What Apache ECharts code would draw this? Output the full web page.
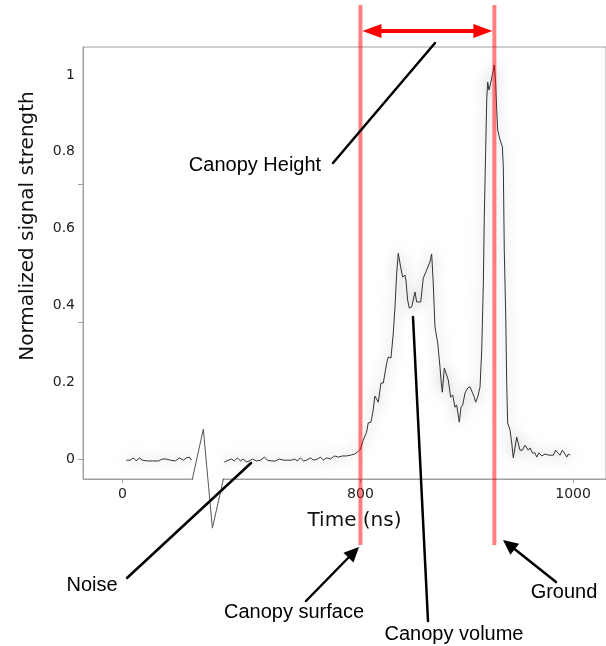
<!DOCTYPE html>
<html>
<head>
<meta charset="utf-8">
<title>Waveform</title>
<script src="https://cdn.jsdelivr.net/npm/echarts@6/dist/echarts.min.js"></script>
<style>
html, body { margin: 0; padding: 0; background: #fff; }
#main { width: 606px; height: 646px; }
</style>
</head>
<body>
<div id="main"></div>
<script>
// axis ticks
var xTicks = [0, 800, 1000];
var yTicks = [0, 0.2, 0.4, 0.6, 0.8, 1];
var yExtraTicks = [0, 0.357, 0.716];

// return waveform (ns, normalized strength); null = gap around the noise pulse
var signalTime = [3.8, 7.5, 10.4, 13.2, 16, 18.8, 23.5, 28.2, 33.9, 37.6, 41.4, 45.2, 49.9, 53.6, 57.4, 60.2, 63.1, 64.9, 80,
  96, 99.6, 678.6, 681.4, 684.2, 687.1, 689.9, 692.7, 695.5, 698.4, 702.1, 705.9, 709.6, 712.5, 716.2, 720, 723.8, 727.5,
  731.3, 735, 737.9, 740.7, 743.5, 746.4, 749.2, 753, 755.8, 759.5, 762.4, 765.2, 768, 771.8, 775.5, 779.3, 783.1, 786.8,
  790.6, 794.4, 797.2, 800, 802.6, 805.8, 807.3, 809.9, 812, 813.6, 815.2, 816.8, 819.3, 821.5, 824.7, 826.2, 828.7,
  830.9, 832.5, 834.1, 835.6, 837.8, 839.7, 841.9, 842.8, 844.4, 845.9, 848.2, 849.7, 851.3, 852.9, 854.4, 856.7, 859.1,
  862.3, 865.4, 867, 868.5, 870.1, 872.7, 874.8, 875.8, 877, 878.9, 880.2, 882.6, 884.9, 886.8, 888.9, 890.5, 893,
  894.6, 896.2, 898.4, 900.9, 903.1, 905.2, 907.1, 908.4, 910.3, 912.5, 914.1, 915.6, 916.5, 917.8, 918.8, 919.7,
  920.9, 922.8, 924.4, 925.9, 927.2, 928.2, 929.1, 931.3, 933.5, 934.4, 935.3, 936.7, 937.6, 938.5, 940.7, 942.3,
  943.8, 945.4, 947, 948.5, 950.1, 952.3, 954.8, 956.4, 957.9, 959.5, 961.7, 964.2, 965.8, 968, 970.5, 973.7, 977.4,
  981.5, 983.7, 985.6, 987.8, 989.9, 991.8, 994.1, 995.6, 997.2];
var signalValue = [-0.003, -0.003, 0.003, -0.005, 0.003, -0.003, -0.005, -0.005, -0.005, 0, 0, -0.003, -0.005, 0.003, -0.003, 0.003, 0.005, -0.003, null,
  -0.008, -0.003, 0, -0.005, 0.003, -0.005, 0, -0.008, -0.005, 0, -0.005, -0.003, 0.005, -0.003, -0.005, -0.005, 0, -0.003,
  -0.003, -0.003, 0, -0.005, 0.003, -0.005, -0.003, 0.003, -0.003, 0, 0.005, -0.003, 0.003, 0, 0.008, 0.005, 0.008, 0.008,
  0.010, 0.013, 0.018, 0.026, 0.049, 0.070, 0.094, 0.096, 0.128, 0.164, 0.161, 0.148, 0.198, 0.198, 0.25, 0.266, 0.263,
  0.328, 0.396, 0.484, 0.536, 0.5, 0.474, 0.479, 0.466, 0.414, 0.393, 0.396, 0.414, 0.435, 0.409, 0.414, 0.409, 0.471,
  0.492, 0.513, 0.534, 0.458, 0.344, 0.302, 0.240, 0.206, 0.174, 0.237, 0.240, 0.206, 0.161, 0.167, 0.135, 0.141, 0.096,
  0.135, 0.141, 0.172, 0.185, 0.188, 0.174, 0.161, 0.148, 0.161, 0.188, 0.284, 0.458, 0.63, 0.805, 0.935, 0.982,
  0.961, 0.982, 1.005, 1.026, 0.979, 0.909, 0.857, 0.831, 0.813, 0.760, 0.544, 0.370, 0.198, 0.094, 0.076, 0.042,
  0.003, 0.003, 0.057, 0.055, 0.023, 0.023, 0.036, 0.036, 0.023, 0.029, 0.016, 0.016, 0.005, 0.016, 0.008, 0.013, 0.010,
  0.010, 0.023, 0.016, 0.010, 0.023, 0.016, 0.005, 0.013, 0.010];

// the noise pulse drawn over the baseline
var pulseTime = [65.9, 76.2, 84.7, 95.1];
var pulseValue = [-0.052, 0.078, -0.18, -0.052];

// canopy surface and ground returns
var surfaceTime = 800;
var groundTime = 926;

function toPairs(xs, ys){
	var out = [];
	for(var i = 0; i < xs.length; i++){
		out.push([xs[i], ys[i] == null ? '-' : ys[i]]);
	}
	return out;
}

var axisGray = '#a0a0a0';
var chart = echarts.init(document.getElementById('main'));

var option = {
	animation : false,
	backgroundColor : '#fff',
	grid : {
		left : 83, right : -2, top : 47, bottom : 167,
		show : true, borderColor : axisGray, borderWidth : 1
	},
	xAxis : {
		type : 'value',
		min : -37, max : 1031,
		breaks : [ { start : 100, end : 676, gap : 0 } ],
		breakArea : { show : false },
		name : 'Time (ns)',
		nameLocation : 'middle',
		nameGap : 32,
		nameTextStyle : { fontFamily : 'DejaVu Sans', fontSize : 20, color : '#111', padding : [0, 0, 0, 20] },
		axisLine : { onZero : false, lineStyle : { color : axisGray } },
		axisTick : { customValues : xTicks, length : 4, lineStyle : { color : axisGray } },
		axisLabel : {
			customValues : xTicks, fontFamily : 'DejaVu Sans', fontSize : 14, color : '#222', margin : 8,
			formatter : function(v){ return String(v); }
		},
		splitLine : { show : false }
	},
	yAxis : {
		type : 'value',
		min : -0.052, max : 1.073,
		name : 'Normalized signal strength',
		nameLocation : 'middle',
		nameGap : 45,
		nameTextStyle : { fontFamily : 'DejaVu Sans', fontSize : 20, color : '#111', padding : [0, 0, 0, 74] },
		axisLine : { show : true, onZero : false, lineStyle : { color : axisGray } },
		axisTick : { show : true, customValues : yExtraTicks, length : 5, lineStyle : { color : axisGray } },
		axisLabel : {
			customValues : yTicks, fontFamily : 'DejaVu Sans', fontSize : 14, color : '#222', margin : 8,
			formatter : function(v){ return String(v); }
		},
		splitLine : { show : false }
	},
	series : [ {
		name : 'Return',
		type : 'line',
		data : toPairs(signalTime, signalValue),
		showSymbol : false,
		connectNulls : false,
		lineStyle : { color : '#333', width : 1, shadowColor : 'rgba(0,0,0,0.55)', shadowBlur : 14 },
		z : 2
	},
	{
		name : 'Noise pulse',
		type : 'line',
		data : toPairs(pulseTime, pulseValue),
		showSymbol : false,
		clip : false,
		lineStyle : { color : '#555', width : 1 },
		z : 3
	} ]
};
chart.setOption(option);

// annotations, red guides placed from the surface / ground times
var xs = chart.convertToPixel({ xAxisIndex : 0 }, surfaceTime);
var xg = chart.convertToPixel({ xAxisIndex : 0 }, groundTime);
var p0 = chart.convertToPixel({ gridIndex : 0 }, [pulseTime[0], pulseValue[0]]);
var p3 = chart.convertToPixel({ gridIndex : 0 }, [pulseTime[3], pulseValue[3]]);

function head(tx, ty, fx, fy, len, w){
	var dx = tx - fx, dy = ty - fy, d = Math.sqrt(dx * dx + dy * dy);
	var ux = dx / d, uy = dy / d;
	var bx = tx - ux * len, by = ty - uy * len;
	return [[tx, ty], [bx - uy * w, by + ux * w], [bx + uy * w, by - ux * w]];
}
function blackLine(x1, y1, x2, y2){
	return { type : 'line', z : 110, shape : { x1 : x1, y1 : y1, x2 : x2, y2 : y2 },
		style : { stroke : '#000', lineWidth : 2.5, lineCap : 'round' } };
}
function label(text, x, y){
	return { type : 'text', z : 110, x : x, y : y,
		style : { text : text, fill : '#000', font : '20px "Liberation Sans", Arial, sans-serif',
			align : 'center', verticalAlign : 'middle' } };
}

var arrowY = 31;
var graphics = [
	// white patch pasted behind the noise pulse
	{ type : 'rect', z : 1, shape : { x : p0[0] + 1, y : 428, width : p3[0] - p0[0] - 2, height : 58 }, style : { fill : '#fff' } },

	{ type : 'line', z : 100, shape : { x1 : xs, y1 : 5, x2 : xs, y2 : 545 }, style : { stroke : 'rgba(255,0,0,0.5)', lineWidth : 4 } },
	{ type : 'line', z : 100, shape : { x1 : xg, y1 : 5, x2 : xg, y2 : 545 }, style : { stroke : 'rgba(255,0,0,0.5)', lineWidth : 4 } },
	{ type : 'line', z : 105, shape : { x1 : xs + 16, y1 : arrowY, x2 : xg - 16, y2 : arrowY }, style : { stroke : '#f00', lineWidth : 4 } },
	{ type : 'polygon', z : 105, shape : { points : head(xs + 2, arrowY, xg, arrowY, 19, 7) }, style : { fill : '#f00' } },
	{ type : 'polygon', z : 105, shape : { points : head(xg - 2, arrowY, xs, arrowY, 19, 7) }, style : { fill : '#f00' } },

	blackLine(333, 163, 435, 43),
	label('Canopy Height', 255, 165),

	blackLine(127, 578, 251, 463),
	label('Noise', 92, 585),

	blackLine(306, 601, 350, 556),
	{ type : 'polygon', z : 110, shape : { points : head(359, 547, 306, 601, 15, 7) }, style : { fill : '#000' } },
	label('Canopy surface', 294, 612),

	blackLine(428, 621, 413, 317),
	label('Canopy volume', 454, 634),

	blackLine(556, 582, 512, 547),
	{ type : 'polygon', z : 110, shape : { points : head(503, 540, 556, 582, 15, 7) }, style : { fill : '#000' } },
	label('Ground', 564, 592)
];
chart.setOption({ graphic : graphics });
</script>
</body>
</html>
